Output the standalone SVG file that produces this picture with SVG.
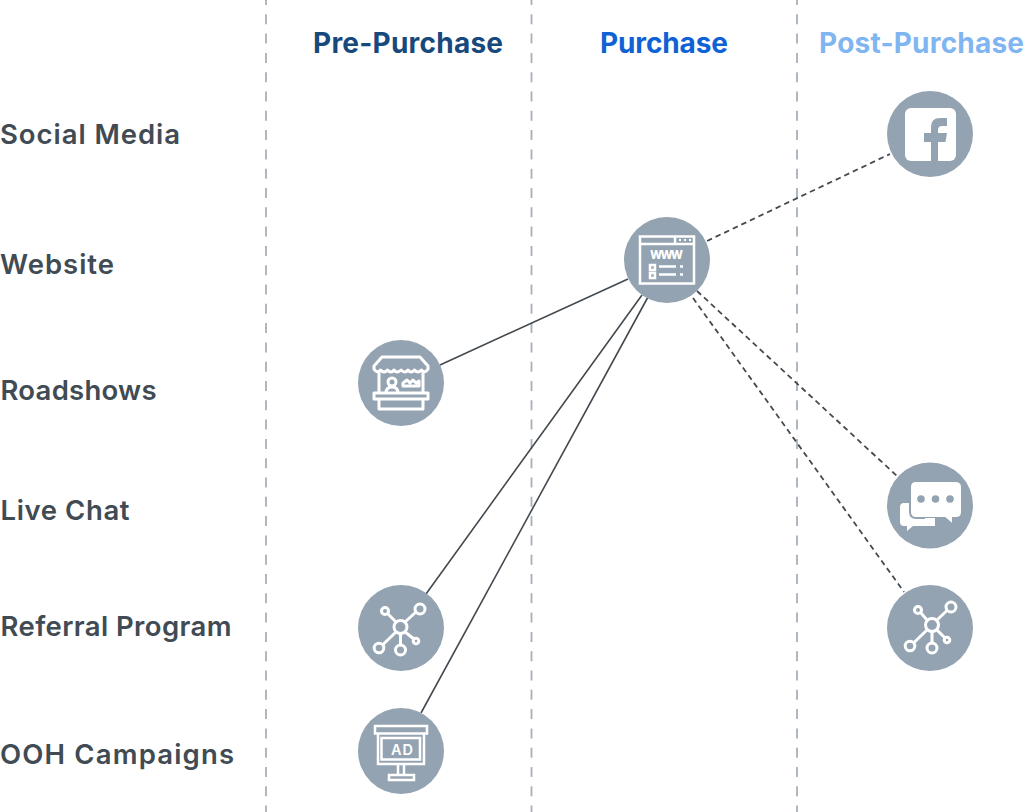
<svg xmlns="http://www.w3.org/2000/svg" width="1024" height="812" viewBox="0 0 1024 812">
<style>
.h{font-family:"Inter","Liberation Sans",sans-serif;font-weight:700;font-size:28px}
.l{font-family:"Inter","Liberation Sans",sans-serif;font-weight:600;font-size:27.500px;fill:#414b54}
.g{stroke:#a8b0b8;stroke-width:1.800;stroke-dasharray:10 9.300;stroke-dashoffset:5;fill:none}
.s{stroke:#434a50;stroke-width:1.600;fill:none}
.d{stroke:#434a50;stroke-width:1.800;stroke-dasharray:5.500 4;fill:none}
.c{fill:#94a3b1}
.i{fill:none;stroke:#fff;stroke-width:3;stroke-linejoin:round;stroke-linecap:round}
.m{fill:none;stroke:#fff;stroke-width:2.500;stroke-linejoin:miter}
.f{fill:#fff}
</style>
<rect width="1024" height="812" fill="#fff"/>
<g id="dividers">
<path class="g" d="M266 0V812M531.500 0V812M797 0V812"/>
</g>
<g id="column-headers">
<text class="h" x="313" y="53" fill="#17497c" textLength="190">Pre-Purchase</text>
<text class="h" x="600" y="53" fill="#0f62d6" textLength="128">Purchase</text>
<text class="h" x="819" y="53" fill="#7fb6f2" textLength="205">Post-Purchase</text>
</g>
<g id="row-labels">
<text class="l" x="0" y="144" textLength="180">Social Media</text>
<text class="l" x="0" y="274" textLength="114">Website</text>
<text class="l" x="0.500" y="400" textLength="156">Roadshows</text>
<text class="l" x="0.500" y="520" textLength="129">Live Chat</text>
<text class="l" x="0.500" y="636" textLength="231">Referral Program</text>
<text class="l" x="0" y="764" textLength="234">OOH Campaigns</text>
</g>
<g id="connectors">
<path class="s" d="M440 365L628 279M426 594L642 295M421 713L648 297"/>
<path class="d" d="M707 241L890 154M697 291L897 476M693 298L904 592"/>
</g>
<g id="node-facebook">
<circle class="c" cx="930" cy="134" r="43"/>
<rect class="f" x="905" y="108" width="51" height="53" rx="6"/>
<path class="c" d="M931 161V142H924V133H931V127Q931 118 940 118H947V126H942Q938 126 938 130V133H947L945.500 142H938V161Z"/>
</g>
<g id="node-website">
<circle class="c" cx="667" cy="260" r="43"/>
<rect class="m" x="640" y="236.500" width="54" height="47"/>
<path class="m" d="M640 244H694M675 236.500V244"/>
<path class="f" d="M679 239h2v2h-2zM684 239h2v2h-2zM689 239h2v2h-2z"/>
<text x="650" y="259" font-family="Inter,'Liberation Sans',sans-serif" font-weight="800" font-size="11.500" fill="#fff" textLength="33">WWW</text>
<path class="m" stroke-width="2" d="M650 265h5v5h-5zM650 273h5v5h-5z"/>
<path class="m" stroke-width="2" d="M659 266.500h17M680 266.500h3M659 274.500h17M680 274.500h3"/>
</g>
<g id="node-roadshows">
<circle class="c" cx="401" cy="383" r="43"/>
<path class="i" d="M382 357H420L428 366V369Q425 374 421.500 370Q418 374 414.500 370Q411 374 408 370Q405 374 401 370Q397 374 394 370Q391 374 387.500 370Q384 374 380.500 370Q377 374 374 369V366ZM379 373V393M423 373V393M374 393H428V399H374ZM379 399V409H423V399ZM386 393Q386 387 392 387Q398 387 398 393"/>
<circle class="i" cx="392" cy="382" r="4"/>
<path class="i" stroke-width="2.500" d="M403 386H419V381L416 383L413 380L410 383L407 380L403 383Z"/>
</g>
<g id="node-live-chat">
<circle class="c" cx="930" cy="505.500" r="43"/>
<path class="f" d="M904 503H930V526H913L907 531V526H904Q900 526 900 522V507Q900 503 904 503Z"/>
<path class="f" stroke="#94a3b1" stroke-width="2" d="M916 481H955Q962 481 962 487V512Q962 518 956 518H953V525L945 518H916Q910 518 910 512V487Q910 481 916 481Z"/>
<path class="f" d="M925 518H935V526H925Z"/>
<circle class="c" cx="921" cy="499" r="3.800"/><circle class="c" cx="935.500" cy="499" r="3.800"/><circle class="c" cx="950" cy="499" r="3.800"/>
</g>
<g id="node-referral">
<circle class="c" cx="401" cy="628" r="43"/>
<g class="i"><circle cx="400.500" cy="627" r="6.500"/><circle cx="385" cy="611" r="3.500"/><circle cx="420" cy="609" r="5"/><circle cx="379" cy="648" r="4.800"/><circle cx="400.500" cy="650" r="5"/><circle cx="416" cy="641" r="2.800"/><path d="M396 622L388 614M405 622L416 612M396 632L383 644.500M400.500 634V645M405 632L414 639"/></g>
</g>
<g id="node-referral-post">
<circle class="c" cx="930" cy="628" r="43"/>
<g class="i"><circle cx="932" cy="625" r="6.500"/><circle cx="918" cy="610" r="3.500"/><circle cx="951" cy="607" r="5"/><circle cx="910" cy="646" r="4.800"/><circle cx="932" cy="648" r="5"/><circle cx="947" cy="640" r="2.800"/><path d="M927 620L921 613M937 620L947 610.500M927 630L914 642.500M932 632V643M937 630L945 638"/></g>
</g>
<g id="node-ooh">
<circle class="c" cx="401" cy="751" r="43"/>
<path class="m" d="M375 726H427V733.500H375ZM378 733.500V764H424V733.500ZM381.500 738H420V759.500H381.500ZM398 764V775M404 764V775M389 775H414V780H389Z"/>
<text x="391" y="754.500" font-family="Inter,'Liberation Sans',sans-serif" font-weight="600" font-size="14.500" fill="#fff" textLength="22">AD</text>
</g>
</svg>
